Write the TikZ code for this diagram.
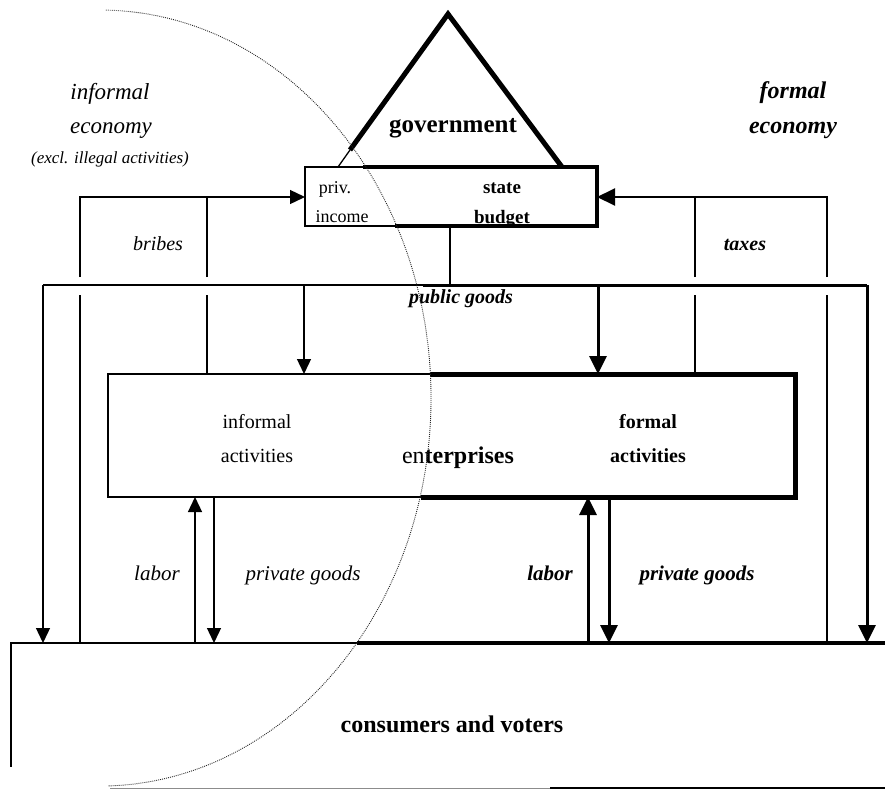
\documentclass[tikz,border=0pt]{standalone}
\usepackage{fontspec}
\setmainfont{Liberation Serif}
\usetikzlibrary{arrows.meta}
\newcommand\fsz[1]{\fontsize{#1}{#1}\selectfont}
\begin{document}
\begin{tikzpicture}[x=1pt,y=-1pt,
  thinln/.style={line width=1.3pt},
  midln/.style={line width=2.4pt},
  thickln/.style={line width=4.2pt, line join=miter},
  tipS/.style={-{Triangle[length=15pt,width=14pt]}},
  tipL/.style={-{Triangle[length=18pt,width=17pt]}},
  circ/.style={line width=0.9pt, black!85, dash pattern=on 0.9pt off 1.1pt},
  lab/.style={inner sep=0pt, anchor=base},
]
\useasboundingbox (0,0) rectangle (885,790);

% ---------- key points ----------
\coordinate (apex) at (448,14);
\coordinate (triL) at (338,167);
\coordinate (triR) at (562,167);
\coordinate (triX) at (350,150);
% budget box
\coordinate (bNW) at (305,167);
\coordinate (bNE) at (597,167);
\coordinate (bSW) at (305,226);
\coordinate (bSE) at (597,226);
\coordinate (bTopX) at (363,167);
\coordinate (bBotX) at (395,226);
% enterprises box
\coordinate (eNW) at (108,374);
\coordinate (eNE) at (795,374);
\coordinate (eSW) at (108,497);
\coordinate (eSE) at (795,497);
\coordinate (eTopX) at (430,374);
\coordinate (eBotX) at (421,497);
% consumers
\coordinate (cNW) at (11,643);
\coordinate (cLow) at (11,767);
\coordinate (cX) at (357,643);
\coordinate (cNE) at (885,643);

% ---------- texts ----------
\node[lab] (infA) at (110,99) {\fsz{23}\itshape informal};
\node[lab] (infB) at (111,133) {\fsz{23}\itshape economy};
\node[lab] (infC) at (110,163) {\fsz{17}\itshape (excl. illegal activities)};
\node[lab] (forA) at (793,98) {\fsz{24}\bfseries\itshape formal};
\node[lab] (forB) at (793,133) {\fsz{24}\bfseries\itshape economy};
\node[lab] (gov) at (453,132) {\fsz{25}\bfseries government};
\node[lab] (priv) at (335,193) {\fsz{18}priv.};
\node[lab] (inc) at (342,222) {\fsz{18}income};
\node[lab] (state) at (502,193) {\fsz{19}\bfseries state};
\node[lab] (budg) at (502,223) {\fsz{19}\bfseries budget};
\node[lab] (bribes) at (158,250) {\fsz{20}\itshape bribes};
\node[lab] (taxes) at (745,250) {\fsz{20}\bfseries\itshape taxes};
\node[lab] (pub) at (461,303) {\fsz{20}\bfseries\itshape public goods};
\node[lab] (iaA) at (257,428) {\fsz{20}informal};
\node[lab] (iaB) at (257,462) {\fsz{20}activities};
\node[lab] (ent) at (458,463) {\fsz{24}en\bfseries terprises};
\node[lab] (faA) at (648,428) {\fsz{20}\bfseries formal};
\node[lab] (faB) at (648,462) {\fsz{20}\bfseries activities};
\node[lab] (labI) at (157,580) {\fsz{21}\itshape labor};
\node[lab] (pgI) at (303,580) {\fsz{21}\itshape private goods};
\node[lab] (labF) at (550,580) {\fsz{21}\bfseries\itshape labor};
\node[lab] (pgF) at (697,580) {\fsz{21}\bfseries\itshape private goods};
\node[lab] (cons) at (452,732) {\fsz{24}\bfseries consumers and voters};

% ---------- government triangle ----------
\draw[line width=5pt, line join=miter] (triX) -- (apex) -- (triR);
\draw[thinln] (triX) -- (triL);

% ---------- state budget box ----------
\draw[thinln] (bTopX) -- (bNW) -- (bSW) -- (bBotX);
\draw[thickln] (bTopX) -- (bNE) -- (bSE) -- (bBotX);

% ---------- enterprises box ----------
\draw[thinln] (eTopX) -- (eNW) -- (eSW) -- (eBotX);
\draw[line width=5pt, line join=miter] (eTopX) -- (eNE) -- (eSE) -- (eBotX);

% ---------- consumers ----------
\draw[thinln] (cX) -- (cNW) -- (cLow);
\draw[thickln] (cX) -- (cNE);
\draw[line width=1pt, black!45] (110,788) -- (550,788);
\draw[line width=1.5pt] (550,788) -- (885,788);

% ---------- public goods ----------
\coordinate (pgTop) at (450,226);
\coordinate (pgJ) at (450,285);
\coordinate (pgL) at (43,285);
\coordinate (pgR) at (867,285);
\coordinate (pgX) at (423,285);
\draw[midln] (pgTop) -- (pgJ);
\draw[thinln] (pgL) -- (pgX);
\draw[line width=3pt] (pgX) -- (pgR);
\draw[thinln, tipS] (pgL) -- (43,643);
\draw[line width=3pt, tipL] (pgR) -- (867,643);
\draw[thinln, tipS] (304,285) -- (304,374);
\draw[line width=3pt, tipL] (598,285) -- (598,374);

% ---------- bribes ----------
\draw[thinln] (80,643) -- (80,295);
\draw[thinln, tipS] (80,277) -- (80,197) -- (bNW |- 0,197);
\draw[thinln] (207,374) -- (207,295);
\draw[thinln] (207,277) -- (207,197);

% ---------- taxes ----------
\draw[line width=2pt] (827,643) -- (827,295);
\draw[line width=2pt, tipL] (827,277) -- (827,197) -- (bNE |- 0,197);
\draw[line width=2pt] (695,374) -- (695,295);
\draw[line width=2pt] (695,277) -- (695,197);

% ---------- labor / private goods ----------
\draw[thinln, tipS] (195,643) -- (195,497);
\draw[thinln, tipS] (214,497) -- (214,643);
\draw[line width=3pt, tipL] (588,643) -- (588,497);
\draw[line width=3pt, tipL] (609,497) -- (609,643);

% ---------- boundary of informal economy ----------
\draw[circ] (105.8,10.1) arc[start angle=-89, end angle=88.5, x radius=331, y radius=388];
\end{tikzpicture}
\end{document}
